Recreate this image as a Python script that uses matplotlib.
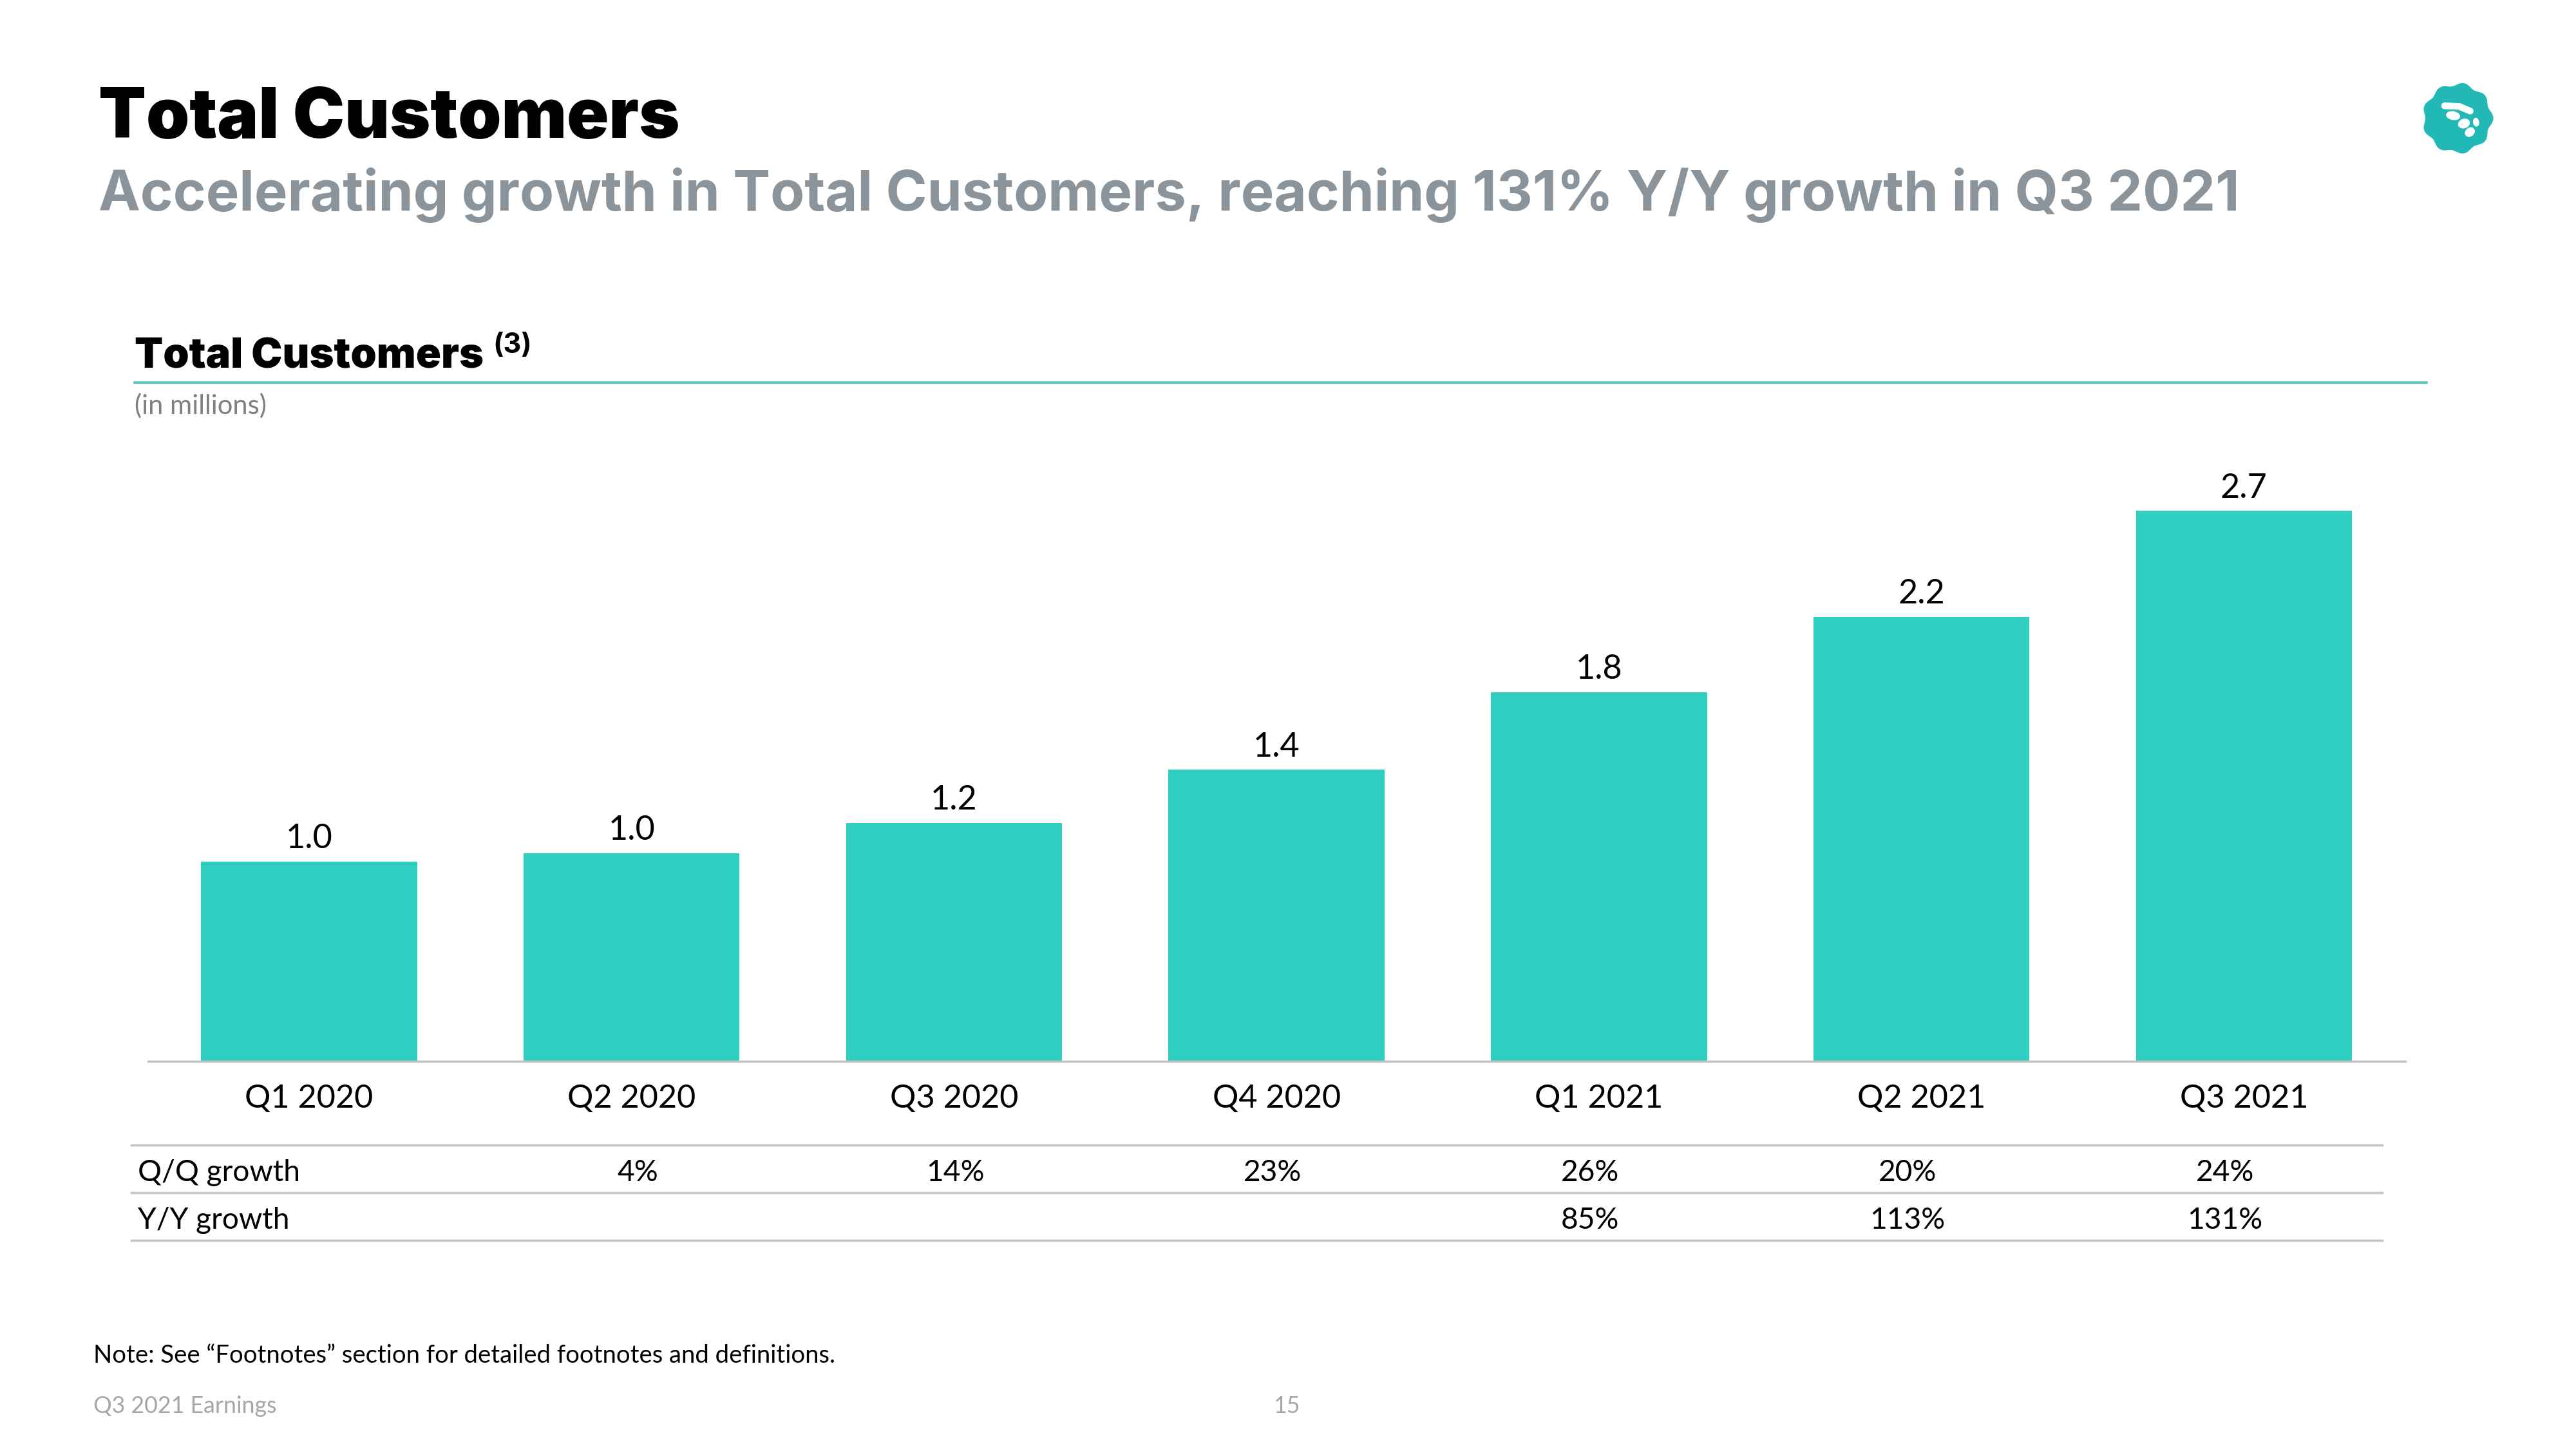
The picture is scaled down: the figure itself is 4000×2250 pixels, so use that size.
import numpy as np
import matplotlib.pyplot as plt
from matplotlib.lines import Line2D
from matplotlib.patches import Polygon, Ellipse

plt.rcParams['font.family'] = ['Lato', 'DejaVu Sans']

# data
quarters = ['Q1 2020', 'Q2 2020', 'Q3 2020', 'Q4 2020', 'Q1 2021', 'Q2 2021', 'Q3 2021']
customers = [0.98, 1.02, 1.17, 1.43, 1.81, 2.18, 2.70]   # millions
qq_growth = ['', '4%', '14%', '23%', '26%', '20%', '24%']
yy_growth = ['', '', '', '', '85%', '113%', '131%']

TEAL = '#2ecec0'
GREY_TXT = '#8b939b'
LINE_GREY = '#c4c4c4'

# layout helpers, reference measured on a 1568x882 view
def fx(x):
    return x / 1568

def fy(y):
    return 1 - y / 882

fig = plt.figure(figsize=(16, 9), dpi=250)

# headings
fig.text(fx(60), fy(84), 'Total Customers', fontsize=31, fontweight='black',
         family='Inter', color='black', va='baseline')
fig.text(fx(60), fy(128), 'Accelerating growth in Total Customers, reaching 131% Y/Y growth in Q3 2021',
         fontsize=25, fontweight='bold', family='Inter', color=GREY_TXT, va='baseline')

hdr = fig.text(fx(82), fy(224), 'Total Customers', fontsize=18.6, fontweight='black',
               family='Inter', color='black', va='baseline')
fig.canvas.draw()
bb = hdr.get_window_extent()
fig.text(bb.x1 + 14, bb.y0 + 36, '(3)', transform=None, fontsize=12.5, fontweight='bold',
         family='Inter', color='black', va='baseline')

fig.add_artist(Line2D([fx(82), fx(1477)], [fy(233), fy(233)], color='#5cc9ba', lw=1.1))
fig.text(fx(82), fy(247), '(in millions)', fontsize=12, color='#7f7f7f', va='center')

# bar chart
ax = fig.add_axes([fx(90), fy(646), fx(1464) - fx(90), (646 - 280) / 882])
x = np.arange(len(quarters))
ax.bar(x, customers, width=0.67, color=TEAL)
ax.set_xlim(-0.5, 6.5)
ax.set_ylim(0, 2.95)
for s in ['top', 'right', 'left']:
    ax.spines[s].set_visible(False)
ax.spines['bottom'].set_color(LINE_GREY)
ax.spines['bottom'].set_linewidth(1.0)
ax.set_yticks([])
ax.set_xticks(x, quarters)
ax.tick_params(axis='x', length=0, pad=10, labelsize=14.5)

for i, v in enumerate(customers):
    ax.annotate(f'{v:.1f}', (i, v), xytext=(0, 6), textcoords='offset points',
                ha='center', va='baseline', fontsize=15)

# growth table
for yl in [697, 726, 755]:
    fig.add_artist(Line2D([fx(80), fx(1450)], [fy(yl), fy(yl)], color=LINE_GREY, lw=1.0))

fig.text(fx(84), fy(714), 'Q/Q growth', fontsize=13.3, va='center')
fig.text(fx(84), fy(743), 'Y/Y growth', fontsize=13.3, va='center')
col_x = [195 + 193.2 * i for i in range(len(quarters))]
for cx, q, y in zip(col_x, qq_growth, yy_growth):
    fig.text(fx(cx), fy(714), q, fontsize=13.3, ha='center', va='center')
    fig.text(fx(cx), fy(743), y, fontsize=13.3, ha='center', va='center')

# footer
fig.text(fx(57), fy(825), 'Note: See \u201cFootnotes\u201d section for detailed footnotes and definitions.',
         fontsize=11, va='center')
fig.text(fx(57), fy(856), 'Q3 2021 Earnings', fontsize=10.3, color='#a6a6a6', va='center')
fig.text(fx(783), fy(856), '15', fontsize=10.3, color='#a6a6a6', ha='center', va='center')

# logo
lax = fig.add_axes([fx(1474), fy(94), 44 / 1568, 44 / 882])
lax.set_xlim(-1.1, 1.1)
lax.set_ylim(-1.1, 1.1)
lax.axis('off')
th = np.linspace(0, 2 * np.pi, 400)
r = 1 + 0.05 * np.cos(9 * th)
lax.add_patch(Polygon(np.c_[r * np.cos(th), r * np.sin(th)], closed=True, color='#21b8b6'))
lax.plot([-0.4, 0.05, 0.38], [0.38, 0.36, 0.22], color='white', lw=3, solid_capstyle='round')
for (ex, ey, w, h, a) in [(-0.14, 0.08, 0.36, 0.2, -10), (0.19, -0.16, 0.3, 0.22, 20),
                          (0.37, -0.42, 0.26, 0.2, 40), (0.56, -0.12, 0.12, 0.2, 10)]:
    lax.add_patch(Ellipse((ex, ey), w, h, angle=a, color='white'))

fig.savefig('out.png', dpi=250)
